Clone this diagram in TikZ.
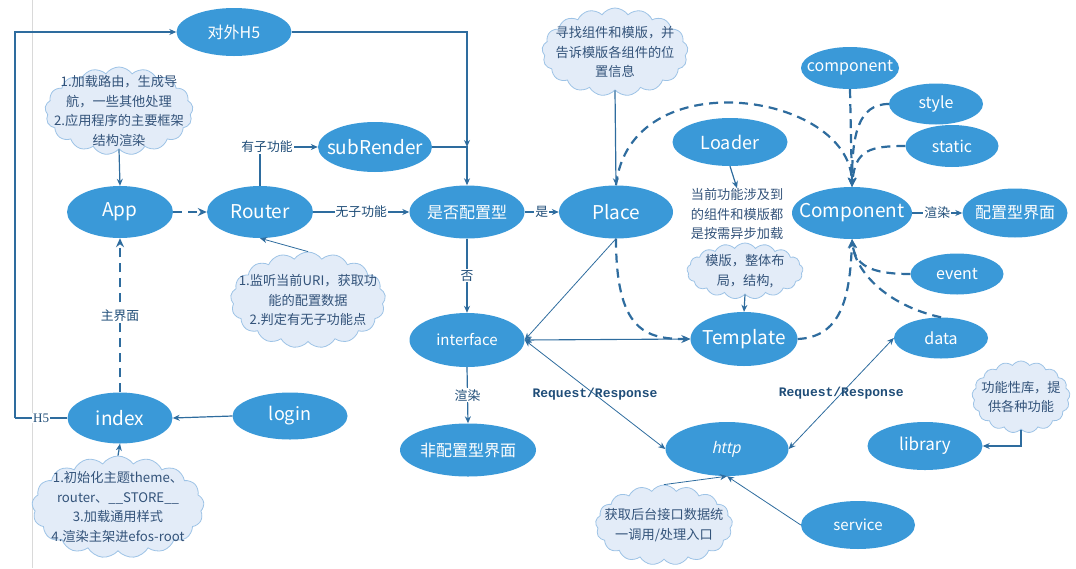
\documentclass[tikz,border=0pt]{standalone}
\usepackage{fontspec}
\setmainfont{Noto Sans CJK SC}
\newfontfamily\itfont{Open Sans}
\newfontfamily\monofont{Liberation Mono}
\newfontfamily\serfont{Liberation Serif}
\usetikzlibrary{shapes.geometric,shapes.symbols,arrows.meta}
\definecolor{nb}{HTML}{3A99D8}
\definecolor{ln}{HTML}{2E6C9E}
\definecolor{cf}{HTML}{E3ECF8}
\definecolor{cb}{HTML}{9DC3E6}
\definecolor{ct}{HTML}{33537A}
\definecolor{lt}{HTML}{1F4D78}
\newcommand\mb[1]{\raisebox{-3pt}{\makebox[0pt]{#1}}}
\begin{document}
\begin{tikzpicture}[x=1pt,y=-1pt,
  el/.style n args={2}{ellipse, fill=nb, draw=none, minimum width=#1, minimum height=#2, inner sep=0pt, text=white},
  f15/.style={font=\fontsize{15}{18}\selectfont},
  f16/.style={font=\fontsize{16}{19}\selectfont},
  f17/.style={font=\fontsize{17}{20}\selectfont},
  f18/.style={font=\fontsize{18}{21}\selectfont},
  f19/.style={font=\fontsize{19}{22}\selectfont},
  cl/.style n args={2}{cloud, cloud puffs=17, cloud puff arc=110, cloud ignores aspect, fill=cf, draw=cb, line width=0.8pt, minimum width=#1, minimum height=#2, inner sep=0pt},
  ctx/.style={text=ct, align=center, font=\fontsize{13.2}{19.5}\selectfont, inner sep=0pt},
  elab/.style={text=lt, font=\fontsize{12.8}{14}\selectfont, fill=white, inner sep=1pt},
  rr/.style={text=lt, font=\monofont\bfseries\fontsize{13}{15}\selectfont, inner sep=0pt},
  cn/.style={draw=ln, line width=1.2pt, -{Stealth[length=7pt,width=6pt]}},
  cnt/.style={draw=ln, line width=0.8pt, -{Stealth[length=7pt,width=6pt]}},
  bi/.style={draw=ln, line width=0.8pt, {Stealth[length=7pt,width=6pt]}-{Stealth[length=7pt,width=6pt]}},
  dsh/.style={draw=ln, line width=2.2pt, dash pattern=on 9pt off 6pt, -{Stealth[length=9pt,width=8pt]}}
]
\useasboundingbox (0,0) rectangle (1076,568);
\draw[black!15, line width=0.8pt] (32,0) -- (32,568);

% clouds
\node[cl={148}{88}] (cApp) at (119,111) {};
\node[ctx] (tApp) at (119,111) {1.加载路由，生成导\\航，一些其他处理\\2.应用程序的主要框架\\结构渲染};
\node[cl={155}{96}] (cRouter) at (308,300) {};
\node[ctx] (tRouter) at (308,300) {1.监听当前URI，获取功\\能的配置数据\\2.判定有无子功能点};
\node[cl={146}{88}] (cPlace) at (615,52) {};
\node[ctx] (tPlace) at (615,52) {寻找组件和模版，并\\告诉模版各组件的位\\置信息};
\node[cl={116}{56}] (cTpl) at (745,271) {};
\node[ctx] (tTpl) at (745,271) {模版，整体布\\局，结构,};
\node[cl={172}{102}] (cIndex) at (118,507) {};
\node[ctx] (tIndex) at (118,507) {1.初始化主题theme、\\router、\_\_STORE\_\_\\3.加载通用样式\\4.渲染主架进efos-root};
\node[cl={137}{80}] (cHttp) at (664,525) {};
\node[ctx] (tHttp) at (664,525) {获取后台接口数据统\\一调用/处理入口};
\node[cl={98}{72}] (cLib) at (1021,397) {};
\node[ctx] (tLib) at (1021,397) {功能性库，提\\供各种功能};
\node[ctx] (lnote) at (737,214) {当前功能涉及到\\的组件和模版都\\是按需异步加载};

% ellipses
\node[el={115}{48}, f16] (h5) at (234,32) {\mb{对外H5}};
\node[el={106}{52}, f19] (app) at (120,212) {\mb{App}};
\node[el={106}{52}, f19] (router) at (260,212) {\mb{Router}};
\node[el={114}{50}, f19] (sub) at (375,147) {\mb{subRender}};
\node[el={115}{53}, f16] (cfg) at (467,212) {\mb{是否配置型}};
\node[el={114}{53}, f19] (place) at (616,212) {\mb{Place}};
\node[el={115}{48}, f18] (loader) at (730,142) {\mb{Loader}};
\node[el={98}{42}, f16] (comp1) at (850,68) {\mb{component}};
\node[el={94}{41}, f16] (sty) at (936,104) {\mb{style}};
\node[el={93}{42}, f16] (static) at (952,146) {\mb{static}};
\node[el={120}{52}, f19] (comp) at (852,213) {\mb{Component}};
\node[el={105}{49}, f16] (cfgui) at (1015,213) {\mb{配置型界面}};
\node[el={93}{41}, f16] (event) at (957,274) {\mb{event}};
\node[el={94}{41}, f16] (data) at (941,338) {\mb{data}};
\node[el={107}{54}, f19] (tpl) at (744,339) {\mb{Template}};
\node[el={123}{54}, f16] (http) at (727,449) {\mb{\itfont\itshape http}};
\node[el={115}{48}, f17] (lib) at (925,446) {\mb{library}};
\node[el={114}{48}, f15] (svc) at (858,525) {\mb{service}};
\node[el={115}{54}, f15] (iface) at (467,340) {\mb{interface}};
\node[el={136}{53}, f16] (ncfg) at (468,450) {\mb{非配置型界面}};
\node[el={105}{51}, f19] (index) at (120,418) {\mb{index}};
\node[el={115}{47}, f18] (login) at (290,416) {\mb{login}};

\coordinate (j) at (467,147);
\coordinate (lt) at (15,418);
\coordinate (lt2) at (15,32);

% solid connectors
\draw[cn, -] (index.west) -- node[elab, font=\serfont\fontsize{13}{14}\selectfont]{H5} (lt);
\draw[cn] (lt) -- (lt2) -- (h5.west);
\draw[cn] (h5.east) -| (j);
\draw[cn] (sub.east) -- (j) -- (cfg.north);
\draw[cn] (router.north) |- node[elab, pos=0.5, xshift=7pt]{有子功能} (sub.west);
\draw[cn] (router.east) -- node[elab]{无子功能} (cfg.west);
\draw[cn] (cfg.east) -- node[elab]{是} (place.west);
\draw[cn] (cfg.south) -- node[elab]{否} (iface.north);
\draw[cn] (iface.south) -- node[elab]{渲染} (ncfg.north);
\draw[cn] (comp.east) -- node[elab]{渲染} (cfgui.west);
\draw[cnt] (place.south) -- (iface.east);
\draw[bi, line width=1.1pt] (iface.east) -- (tpl.west);
\draw[bi] (iface.east) -- node[rr]{Request/Response} (http.west);
\draw[bi] (data.west) -- node[rr]{Request/Response} (http.east);
\draw[cn] (cApp.south) -- (app.north);
\draw[cnt] (cRouter.north) -- (router.south);
\draw[cn] (cPlace.south) -- (place.north);
\draw[cn] (cTpl.south) -- (tpl.north);
\draw[cn] (loader.south) -- (lnote.north);
\draw[cn] (cIndex.north) -- (index.south);
\draw[cn] (login.west) -- (index.east);
\draw[cnt] (cHttp.north) -- (http.south);
\draw[cnt] (svc.west) -- (http.south);
\draw[cn] (cLib.south) |- (lib.east);

% dashed connectors
\draw[dsh] (index.north) -- node[elab]{主界面} (app.south);
\draw[dsh] (app.east) -- (router.west);
\draw[dsh] (place.south) .. controls (616,330) and (645,339) .. (tpl.west);
\draw[dsh] (place.north) .. controls (630,60) and (850,92) .. (comp.north);
\draw[dsh] (tpl.east) .. controls (840,337) and (850,300) .. (comp.south);
\draw[dsh] (comp1.south) -- (comp.north);
\draw[dsh] (sty.west) .. controls (858,104) and (852,135) .. (comp.north);
\draw[dsh] (static.west) .. controls (870,146) and (855,150) .. (comp.north);
\draw[dsh] (event.west) .. controls (870,274) and (855,265) .. (comp.south);
\draw[dsh] (data.north) .. controls (885,305) and (855,270) .. (comp.south);
\end{tikzpicture}
\end{document}
